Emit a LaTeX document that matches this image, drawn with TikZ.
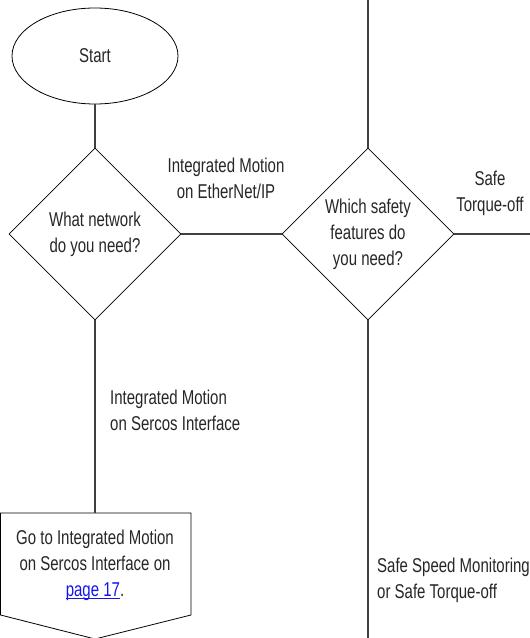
\documentclass[tikz,border=0pt]{standalone}
\usepackage{fontspec}
\setmainfont[FakeStretch=0.75]{Liberation Sans}
\usetikzlibrary{shapes.geometric}
\definecolor{linkblue}{RGB}{20,20,235}
\newcommand\linkline[1]{\underline{\smash{#1}\vphantom{a}}}
\begin{document}
\begin{tikzpicture}[x=1pt,y=1pt,
  every node/.style={font=\fontsize{20}{26}\selectfont, text=black!85},
  shapeline/.style={draw=black, line width=0.8pt},
  conn/.style={draw=black!75, line width=1.2pt},
  decision/.style={shapeline, diamond, aspect=1, minimum width=172pt, minimum height=172pt, inner sep=0pt, align=center},
  lbl/.style={align=center, inner sep=0pt},
  lbll/.style={align=left, inner sep=0pt, anchor=west}]
\useasboundingbox (0,0) rectangle (530,638);
% shapes
\node[shapeline, ellipse, minimum width=166pt, minimum height=96pt, inner sep=0pt] (start) at (95,582) {Start};
\node[decision] (d1) at (95,404) {What network\\do you need?};
\node[decision] (d2) at (368,404) {Which safety\\features do\\you need?};
\draw[shapeline] (0.5,125) -- (191,125) -- (191,23) -- (95,-1) -- (0.5,23) -- cycle;
\coordinate (boxtop) at (95,125);
\node[lbl] (goto) at (95,74) {Go to Integrated Motion\\on Sercos Interface on\\{\color{linkblue}\linkline{page 17}}.};
% free ends
\coordinate (topend) at (368,638);
\coordinate (rightend) at (530,404);
\coordinate (bottomend) at (368,0);
% connectors
\draw[conn] (start.south) -- (d1.north);
\draw[conn] (d1.east) -- (d2.west);
\draw[conn] (d1.south) -- (boxtop);
\draw[conn] (d2.north) -- (topend);
\draw[conn] (d2.east) -- (rightend);
\draw[conn] (d2.south) -- (bottomend);
% labels
\node[lbl] (lethernet) at (226,460) {Integrated Motion\\on EtherNet/IP};
\node[lbl] (lsto) at (490,445) {Safe\\Torque-off};
\node[lbll] (lsercos) at (110,228) {Integrated Motion\\on Sercos Interface};
\node[lbll] (lssm) at (377,58) {Safe Speed Monitoring\\or Safe Torque-off};
\end{tikzpicture}
\end{document}
